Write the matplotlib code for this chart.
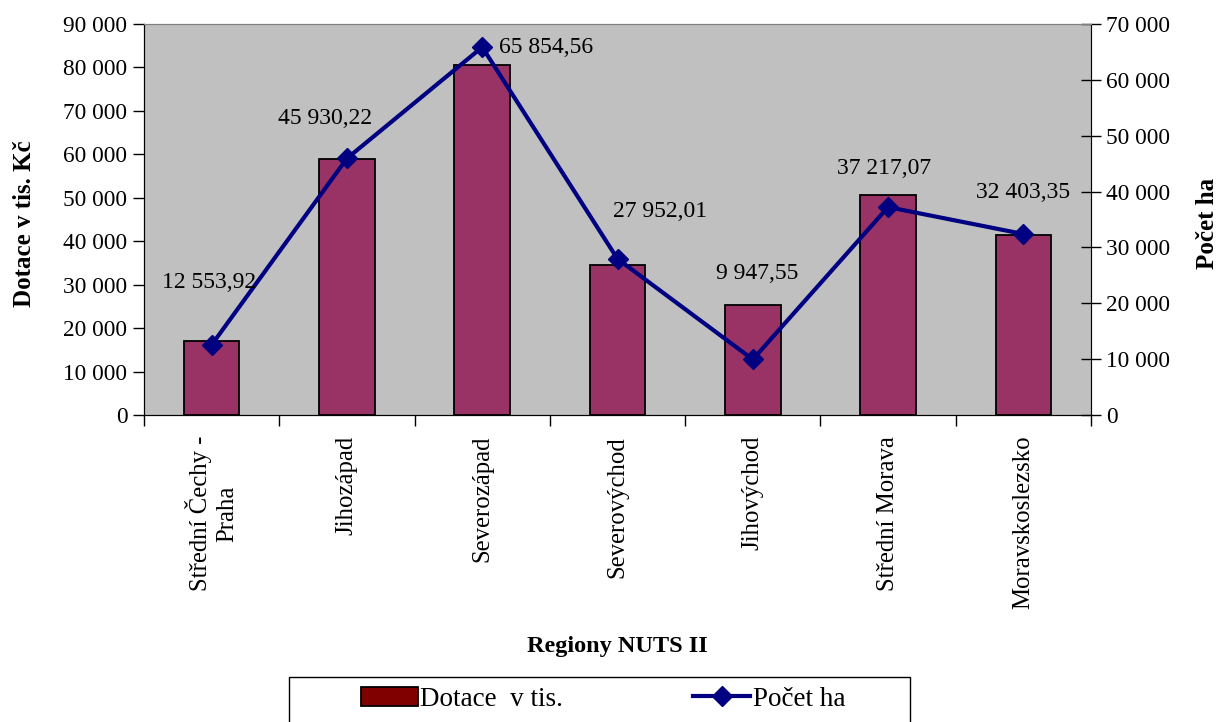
import numpy as np
import matplotlib.pyplot as plt
from matplotlib.patches import Patch, Rectangle
from matplotlib.lines import Line2D
from matplotlib.ticker import FuncFormatter, MultipleLocator

plt.rcParams['font.family'] = ['Liberation Serif', 'DejaVu Serif']

# data
regions = ["Střední Čechy -\nPraha", "Jihozápad", "Severozápad", "Severovýchod",
           "Jihovýchod", "Střední Morava", "Moravskoslezsko"]
dotace = [17100, 59000, 80650, 34500, 25300, 50650, 41450]
pocet_ha = [12553.92, 45930.22, 65854.56, 27952.01, 9947.55, 37217.07, 32403.35]

# label offsets in pixels (dx, dy) and alignment
label_off = [(-3, 62, 'center'), (-22, 40, 'center'), (17, 0, 'left'), (43, 47, 'center'),
             (4, 86, 'center'), (-4, 39, 'center'), (0, 42, 'center')]

bar_col = '#993366'
line_col = '#000080'

def czfmt(v, pos=None):
    return "{:,.0f}".format(v).replace(",", " ")

def czdec(v):
    return "{:,.2f}".format(v).replace(",", " ").replace(".", ",")

fig = plt.figure(figsize=(12.26, 7.22), dpi=100)
ax = fig.add_axes([144/1226, 1-415/722, 947/1226, 391/722])
ax.set_facecolor('#C0C0C0')
x = np.arange(len(regions))
ax.bar(x, dotace, width=0.41, color=bar_col, edgecolor='black', linewidth=1.3, zorder=2)
ax.set_xlim(-0.5, len(regions)-0.5)
ax.set_ylim(0, 90000)
ax.yaxis.set_major_locator(MultipleLocator(10000))
ax.yaxis.set_major_formatter(FuncFormatter(czfmt))
ax.tick_params(axis='y', direction='out', length=8, width=1, labelsize=16.8, pad=4)

# category ticks at boundaries, labels at centres
ax.set_xticks(np.arange(-0.5, len(regions)), minor=False)
ax.set_xticklabels([])
ax.set_xticks(x, minor=True)
ax.set_xticklabels(regions, minor=True, rotation=90, fontsize=17.8, va='top', ha='center',
                   multialignment='center')
ax.tick_params(axis='x', which='major', direction='out', length=8, width=1)
ax.tick_params(axis='x', which='minor', length=0, pad=15)

for s in ['top', 'right']:
    ax.spines[s].set_color('#808080')

ax.set_ylabel("Dotace v tis. Kč", fontsize=18, fontweight='bold')
ax.yaxis.set_label_coords(-0.114, 0.49)
ax.set_xlabel("Regiony NUTS II", fontsize=17.5, fontweight='bold')
ax.xaxis.set_label_coords(0.5, -0.565)

ax2 = ax.twinx()
ax2.plot(x, pocet_ha, color=line_col, linewidth=3, marker='D', markersize=10, zorder=3)
ax2.set_ylim(0, 70000)
ax2.yaxis.set_major_locator(MultipleLocator(10000))
ax2.yaxis.set_major_formatter(FuncFormatter(czfmt))
ax2.tick_params(axis='y', direction='inout', length=14, width=1, labelsize=16.8, pad=4)
ax2.spines['top'].set_color('#808080')
ax2.set_ylabel("Počet ha", fontsize=18, fontweight='bold', rotation=90)
ax2.yaxis.set_label_coords(1.111, 0.49)

for xi, v, (dx, dy, ha) in zip(x, pocet_ha, label_off):
    ax2.annotate(czdec(v), (xi, v), xytext=(dx, dy), textcoords='offset pixels',
                 ha=ha, va='center', fontsize=17, zorder=4)

# legend with manual frame
fig.patches.append(Rectangle((289/1226, -0.02), 621/1226, 1-677/722+0.02,
                             transform=fig.transFigure, fill=False,
                             edgecolor='black', linewidth=1))
handles = [Patch(facecolor='#800000', edgecolor='black', linewidth=1.3),
           Line2D([], [], color=line_col, linewidth=3, marker='D', markersize=10)]
fig.legend(handles, ["Dotace  v tis.", "Počet ha"], loc='center',
           bbox_to_anchor=(603/1226, 1-699/722), ncol=2, frameon=False,
           fontsize=19.5, handlelength=2.1, handletextpad=0.1, columnspacing=4.8,
           handleheight=0.7)

fig.savefig('out.png', dpi=100)
